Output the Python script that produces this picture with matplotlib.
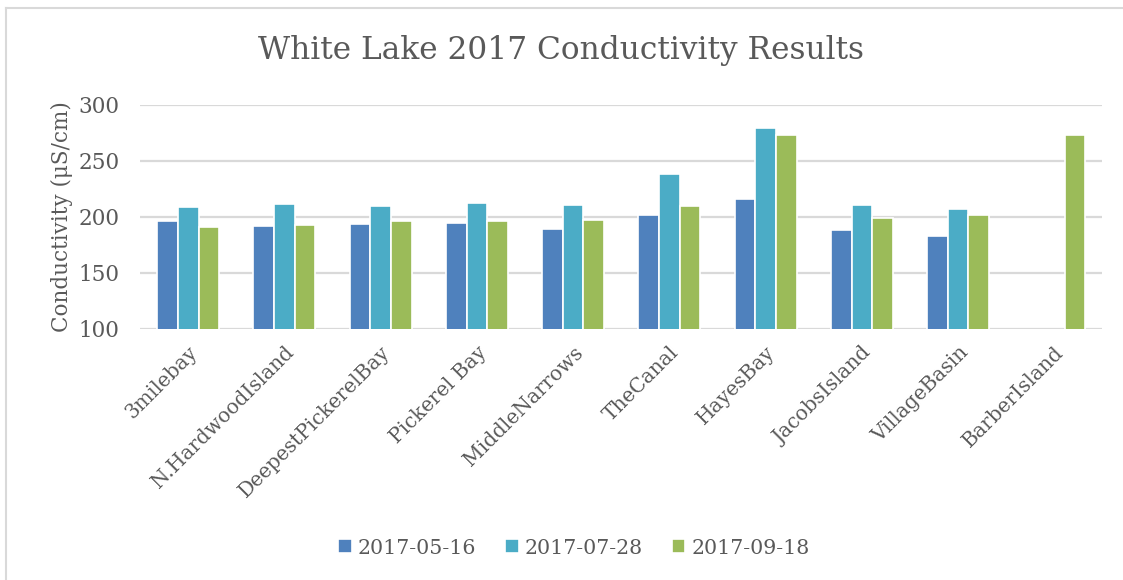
import numpy as np
import matplotlib.pyplot as plt
from matplotlib.lines import Line2D

sites = ["3milebay", "N.HardwoodIsland", "DeepestPickerelBay", "Pickerel Bay",
         "MiddleNarrows", "TheCanal", "HayesBay", "JacobsIsland",
         "VillageBasin", "BarberIsland"]
dates = ["2017-05-16", "2017-07-28", "2017-09-18"]

may = [196, 192, 194, 195, 189, 202, 216, 188, 183, np.nan]
july = [209, 212, 210, 212.5, 211, 238, 279, 211, 207, np.nan]
sept = [191, 193, 196, 196, 197, 210, 273, 199, 202, 273]

colors = ["#4F81BD", "#4BACC6", "#9BBB59"]
text_color = "#595959"
grid_color = "#D9D9D9"

plt.rcParams["font.family"] = ["DejaVu Serif"]

fig = plt.figure(figsize=(11.23, 5.8), dpi=100)
ax = fig.add_axes([0.1247, 0.4328, 0.857, 0.3862])

x = np.arange(len(sites))
width = 0.215
for i, (vals, c, lab) in enumerate(zip([may, july, sept], colors, dates)):
    ax.bar(x + (i - 1) * width, vals, width, color=c, edgecolor="white",
           linewidth=1.2, label=lab, zorder=3)

ax.set_ylim(100, 300)
ax.set_xlim(-0.5, len(sites) - 0.5)
ax.set_yticks([100, 150, 200, 250, 300])
ax.grid(axis="y", color=grid_color, linewidth=1.6, zorder=0)
for s in ax.spines.values():
    s.set_visible(False)
ax.tick_params(axis="y", length=0, labelsize=15.5, colors=text_color, pad=15)
ax.tick_params(axis="x", length=0, labelsize=14.5, colors=text_color, pad=10)
ax.set_xticks(x)
ax.set_xticklabels(sites, rotation=45, ha="right", rotation_mode="anchor")

ax.set_ylabel("Conductivity (μS/cm)", fontsize=15.5, color=text_color, labelpad=4)
fig.suptitle("White Lake 2017 Conductivity Results", fontsize=22.5,
             color=text_color, y=1 - 50 / 580, va="center")

leg = fig.legend(loc="center", bbox_to_anchor=(0.511, 1 - 548 / 580), ncol=3,
                 frameon=False, fontsize=14.8, handlelength=0.65, handleheight=0.65,
                 handletextpad=0.3, columnspacing=1.4)
for t in leg.get_texts():
    t.set_color(text_color)

# thin frame around the chart area (top and left edges)
fig.add_artist(Line2D([5.5 / 1123, 1], [1 - 7.5 / 580, 1 - 7.5 / 580],
                      transform=fig.transFigure, color=grid_color, linewidth=1.5))
fig.add_artist(Line2D([5.5 / 1123, 5.5 / 1123], [0, 1 - 7.5 / 580],
                      transform=fig.transFigure, color=grid_color, linewidth=1.5))

fig.savefig("out.png", dpi=100)
